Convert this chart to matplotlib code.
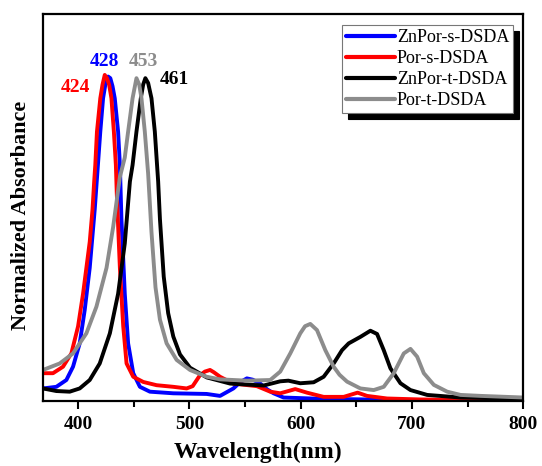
import matplotlib
matplotlib.use("Agg")
import matplotlib.pyplot as plt
import numpy as np

plt.rcParams['font.family'] = ['Liberation Serif', 'DejaVu Serif']

# ZnPor-s-DSDA
wl_zns = [368.5, 380.5, 389.5, 395.5, 401.5, 406, 410.5, 415, 420, 422.5, 425, 427, 429, 431, 433, 436, 437.6,
          439, 442, 445, 449.6, 455.6, 464.6, 485.6, 515.6, 527.6, 539.6, 546, 551.7, 557, 563.7, 570, 575.7,
          584.7, 617.7, 660, 701.7, 800]
ab_zns = [0.038, 0.043, 0.064, 0.105, 0.177, 0.28, 0.41, 0.59, 0.83, 0.933, 0.985, 1.0, 0.995, 0.97, 0.933,
          0.83, 0.727, 0.56, 0.33, 0.177, 0.085, 0.043, 0.028, 0.023, 0.021, 0.015, 0.038, 0.058, 0.069, 0.065,
          0.053, 0.035, 0.023, 0.010, 0.006, 0.004, 0.002, 0.0]

# Por-s-DSDA
wl_ps = [368.5, 377.5, 386.5, 394, 400, 404.5, 407.5, 410.5, 413, 414.5, 415.5, 417, 420, 422, 424, 426, 428,
         430, 432.2, 434, 434.8, 437.6, 440.6, 443.6, 449.6, 458.6, 470.6, 485.6, 497.6, 503, 509.6, 514, 518.6,
         522, 527.6, 539.6, 560.7, 572.7, 581.7, 595.2, 605.7, 620.7, 638.7, 651.2, 659.7, 677.7, 707.7, 761.8, 800]
ab_ps = [0.085, 0.085, 0.105, 0.146, 0.229, 0.33, 0.41, 0.49, 0.59, 0.676, 0.727, 0.83, 0.933, 0.975, 1.005,
         0.995, 0.974, 0.933, 0.83, 0.727, 0.64, 0.41, 0.23, 0.115, 0.074, 0.058, 0.048, 0.043, 0.038, 0.045,
         0.079, 0.090, 0.095, 0.088, 0.074, 0.053, 0.045, 0.028, 0.023, 0.036, 0.025, 0.012, 0.012, 0.025, 0.015,
         0.007, 0.004, 0.002, 0.0]

# ZnPor-t-DSDA
wl_znt = [368.5, 380.5, 392.5, 401.5, 410.5, 419.5, 428.6, 436, 442, 446.6, 449, 452.5, 456.4, 458.5, 460.5,
          463, 466, 469, 471, 472, 473.6, 477, 481, 485.6, 491.6, 500.6, 515.6, 536.6, 566.7, 581.7, 589, 599.7,
          611.7, 620.7, 629.7, 637.2, 643.2, 653.7, 662.7, 668.7, 674.7, 680.7, 689.7, 698.7, 713.7, 743.7, 800]
ab_znt = [0.038, 0.030, 0.028, 0.038, 0.064, 0.115, 0.208, 0.33, 0.485, 0.676, 0.727, 0.83, 0.933, 0.975, 0.995,
          0.98, 0.933, 0.83, 0.727, 0.676, 0.56, 0.383, 0.27, 0.198, 0.143, 0.102, 0.072, 0.053, 0.047, 0.060,
          0.062, 0.054, 0.057, 0.074, 0.115, 0.156, 0.177, 0.197, 0.216, 0.206, 0.156, 0.100, 0.054, 0.033, 0.018,
          0.010, 0.006]

# Por-t-DSDA
wl_pt = [368.5, 383.5, 395.5, 407.5, 416.5, 425.6, 431.6, 437.6, 442, 445, 449, 452.5, 455, 457, 460, 463, 466,
         469.6, 473.6, 479.6, 488.6, 500.6, 515.6, 527.6, 551.7, 572.7, 581.7, 590.7, 599.7, 604, 608.7, 614.7,
         622.2, 629.7, 635, 641.7, 653.7, 665.7, 674.7, 683.7, 692.7, 698.7, 704.7, 710.7, 719.7, 731.7, 743.7,
         761.8, 800]
ab_pt = [0.095, 0.115, 0.146, 0.208, 0.29, 0.41, 0.537, 0.69, 0.75, 0.83, 0.933, 0.995, 0.975, 0.933, 0.83,
         0.70, 0.52, 0.35, 0.25, 0.177, 0.126, 0.095, 0.074, 0.066, 0.062, 0.064, 0.090, 0.146, 0.208, 0.230,
         0.237, 0.218, 0.156, 0.105, 0.080, 0.059, 0.038, 0.033, 0.043, 0.085, 0.146, 0.160, 0.136, 0.085, 0.049,
         0.028, 0.018, 0.015, 0.010]

labels = ['ZnPor-s-DSDA', 'Por-s-DSDA', 'ZnPor-t-DSDA', 'Por-t-DSDA']
colors = ['#0000ff', '#ff0000', '#000000', '#8c8c8c']
peak_text = ['428', '424', '461', '453']
peak_pos = [(423.6, 1.045), (397.6, 0.967), (486.4, 0.99), (458.6, 1.045)]

fig = plt.figure(figsize=(5.42, 4.66), dpi=100)
ax = fig.add_axes([0.0793, 0.140, 0.886, 0.830])

series = [(wl_zns, ab_zns), (wl_ps, ab_ps), (wl_znt, ab_znt), (wl_pt, ab_pt)]
for (x, y), lab, c in zip(series, labels, colors):
    ax.plot(x, y, color=c, lw=2.8, label=lab, solid_joinstyle='round', solid_capstyle='round')

for t, (px, py), c in zip(peak_text, peak_pos, colors):
    ax.text(px, py, t, color=c, fontsize=14, fontweight='bold', ha='center', va='center')

ax.set_xlim(368.5, 800)
ax.set_ylim(0, 1.193)
ax.set_xticks([400, 500, 600, 700, 800])
ax.set_xticks([450, 550, 650, 750], minor=True)
ax.set_yticks([])
ax.tick_params(axis='x', which='major', direction='out', length=6, width=1.5, pad=5,
               labelsize=14, top=False)
ax.tick_params(axis='x', which='minor', direction='out', length=4, width=1.5, top=False)
for lbl in ax.get_xticklabels():
    lbl.set_fontweight('bold')
for s in ax.spines.values():
    s.set_linewidth(1.6)

ax.set_xlabel('Wavelength(nm)', fontsize=17, fontweight='bold')
ax.xaxis.set_label_coords(0.448, -0.105)
ax.set_ylabel('Normalized Absorbance', fontsize=16, fontweight='bold')
ax.yaxis.set_label_coords(-0.024, 0.48)

leg = ax.legend(loc='upper right', bbox_to_anchor=(0.979, 0.971), borderaxespad=0,
                fontsize=13, frameon=True, fancybox=False, handlelength=2.7,
                handletextpad=0.1, labelspacing=0.22, borderpad=0.22,
                shadow={'color': 'black', 'alpha': 1.0, 'ox': 4, 'oy': -4})
leg.get_frame().set_edgecolor('#777777')
leg.get_frame().set_linewidth(0.8)
for line in leg.get_lines():
    line.set_linewidth(3)

fig.savefig('out.png', dpi=100)
